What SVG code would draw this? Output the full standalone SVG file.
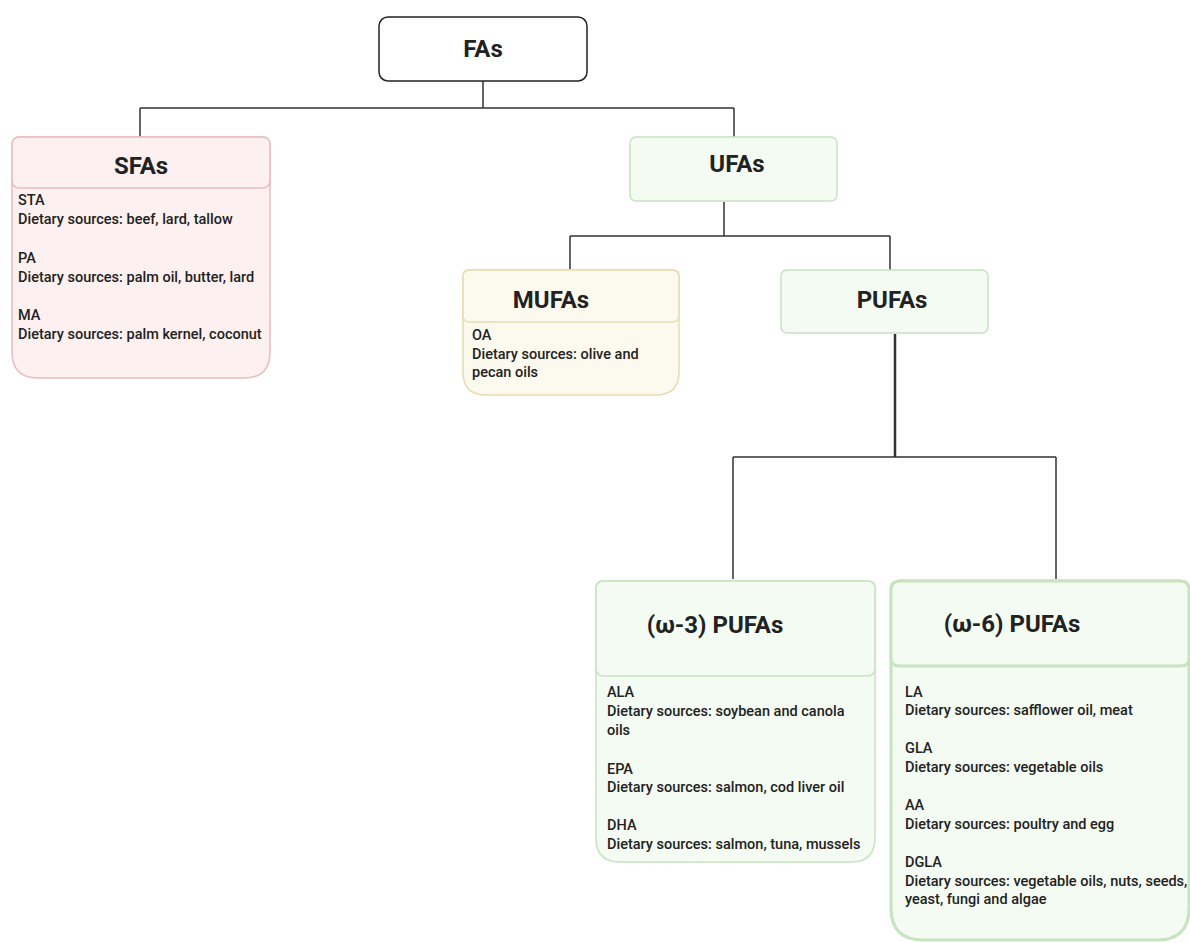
<svg xmlns="http://www.w3.org/2000/svg" width="1190" height="943" viewBox="0 0 1190 943">
  <style>
    .title { font-family: Roboto, "Liberation Sans", sans-serif; font-weight: 700; font-size: 24px; fill: #222; }
    .body { font-family: Roboto, "Liberation Sans", sans-serif; font-weight: 500; font-size: 14.5px; fill: #222; }
    .wire { fill: none; stroke: #333; stroke-width: 1.5; }
    .pink { fill: #fdf0f0; stroke: #e9bcbf; stroke-width: 1.5; }
    .sand { fill: #fcf9ee; stroke: #e8dcaf; stroke-width: 1.5; }
    .mint { fill: #f4fbf2; stroke: #c6e4bf; stroke-width: 1.5; }
  </style>
  <rect width="1190" height="943" fill="#ffffff"/>

  <!-- connectors -->
  <g id="connectors">
    <path class="wire" d="M483,81 V108 M140,108 H734 M140,108 V137 M734,108 V137"/>
    <path class="wire" d="M724,202 V236 M570,236 H890 M570,236 V270 M890,236 V270"/>
    <path class="wire" d="M895,334 V457" style="stroke-width:2.5"/>
    <path class="wire" d="M733,457 H1056 M733,457 V579 M1056,457 V579"/>
  </g>

  <!-- root -->
  <g id="node-fas">
    <rect x="379" y="17" width="208" height="64" rx="9" fill="#ffffff" stroke="#222" stroke-width="1.5"/>
    <text class="title" x="483" y="57" text-anchor="middle">FAs</text>
  </g>

  <!-- saturated -->
  <g id="node-sfas">
    <path class="pink" d="M12,145 Q12,137 20,137 H262 Q270,137 270,145 V352 Q270,378 244,378 H38 Q12,378 12,352 Z"/>
    <rect class="pink" x="12" y="137" width="258" height="51" rx="7"/>
    <text class="title" x="141" y="174" text-anchor="middle">SFAs</text>
    <text class="body">
      <tspan x="18" y="205">STA</tspan>
      <tspan x="18" y="224">Dietary sources: beef, lard, tallow</tspan>
      <tspan x="18" y="263">PA</tspan>
      <tspan x="18" y="282">Dietary sources: palm oil, butter, lard</tspan>
      <tspan x="18" y="320">MA</tspan>
      <tspan x="18" y="339">Dietary sources: palm kernel, coconut</tspan>
    </text>
  </g>

  <!-- unsaturated -->
  <g id="node-ufas">
    <rect class="mint" x="630" y="137" width="207" height="64" rx="6"/>
    <text class="title" x="737" y="172" text-anchor="middle">UFAs</text>
  </g>

  <g id="node-mufas">
    <path class="sand" d="M463,276 Q463,270 469,270 H673 Q679,270 679,276 V372 Q679,395 656,395 H486 Q463,395 463,372 Z"/>
    <rect class="sand" x="463" y="270" width="216" height="52" rx="6"/>
    <text class="title" x="551" y="308" text-anchor="middle">MUFAs</text>
    <text class="body">
      <tspan x="472" y="340">OA</tspan>
      <tspan x="472" y="359">Dietary sources: olive and</tspan>
      <tspan x="472" y="377">pecan oils</tspan>
    </text>
  </g>

  <g id="node-pufas">
    <rect class="mint" x="781" y="270" width="207" height="63" rx="6"/>
    <text class="title" x="892" y="308" text-anchor="middle">PUFAs</text>
  </g>

  <g id="node-omega3">
    <path class="mint" d="M596,588 Q596,581 603,581 H868 Q875,581 875,588 V838 Q875,862 851,862 H620 Q596,862 596,838 Z"/>
    <rect class="mint" x="596" y="581" width="279" height="95" rx="7"/>
    <text class="title" x="715" y="633" text-anchor="middle">(ω-3) PUFAs</text>
    <text class="body">
      <tspan x="607" y="697">ALA</tspan>
      <tspan x="607" y="716">Dietary sources: soybean and canola</tspan>
      <tspan x="607" y="735">oils</tspan>
      <tspan x="607" y="774">EPA</tspan>
      <tspan x="607" y="792">Dietary sources: salmon, cod liver oil</tspan>
      <tspan x="607" y="830">DHA</tspan>
      <tspan x="607" y="849">Dietary sources: salmon, tuna, mussels</tspan>
    </text>
  </g>

  <g id="node-omega6">
    <path class="mint" d="M891,590 Q891,581 900,581 H1180 Q1189,581 1189,590 V908 Q1189,940 1157,940 H923 Q891,940 891,908 Z" style="stroke-width:3"/>
    <path class="mint" d="M891,590 Q891,581 900,581 H1180 Q1189,581 1189,590 V658 Q1189,666 1181,666 H899 Q891,666 891,658 Z" style="stroke-width:3"/>
    <text class="title" x="1012" y="632" text-anchor="middle">(ω-6) PUFAs</text>
    <text class="body">
      <tspan x="905" y="697">LA</tspan>
      <tspan x="905" y="715">Dietary sources: safflower oil, meat</tspan>
      <tspan x="905" y="753">GLA</tspan>
      <tspan x="905" y="772">Dietary sources: vegetable oils</tspan>
      <tspan x="905" y="810">AA</tspan>
      <tspan x="905" y="829">Dietary sources: poultry and egg</tspan>
      <tspan x="905" y="867">DGLA</tspan>
      <tspan x="905" y="886">Dietary sources: vegetable oils, nuts, seeds,</tspan>
      <tspan x="905" y="904">yeast, fungi and algae</tspan>
    </text>
  </g>
</svg>
